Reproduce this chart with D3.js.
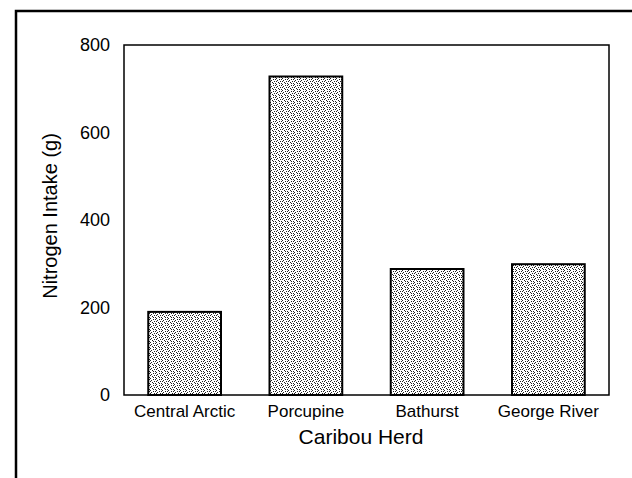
<!DOCTYPE html>
<html>
<head>
<meta charset="utf-8">
<script src="https://cdn.jsdelivr.net/npm/d3@7"></script>
<style>
  body { margin: 0; background: #fff; }
  text { font-family: Arial, "Liberation Sans", sans-serif; fill: #000; }
</style>
</head>
<body>
<div id="plot"></div>
<script>
var herds = ['Central Arctic', 'Porcupine', 'Bathurst', 'George River'];
var nitrogen = [190, 728, 288, 299];
var yTicks = [0, 200, 400, 600, 800];

var w = 632, h = 478;
var plotL = 124, plotR = 609, plotT = 45, plotB = 395;

var svg = d3.select('#plot').append('svg')
    .attr('width', w)
    .attr('height', h);

// stipple fill like the printed original
var pat = svg.append('defs').append('pattern')
    .attr('id', 'stipple')
    .attr('patternUnits', 'userSpaceOnUse')
    .attr('width', 6)
    .attr('height', 6);
pat.append('rect').attr('width', 6).attr('height', 6).attr('fill', '#fff');
[[0,0],[3,1],[1,2],[4,3],[2,4],[5,5],[0,3],[3,5],[5,1]].forEach(function(p){
  pat.append('rect').attr('x', p[0]).attr('y', p[1])
     .attr('width', 1).attr('height', 1).attr('fill', '#222');
});

// outer frame (cut off on right and bottom)
svg.append('path')
    .attr('d', 'M16,' + h + 'V11H' + w)
    .attr('fill', 'none')
    .attr('stroke', '#000')
    .attr('stroke-width', 2.5);

var x = d3.scaleBand()
    .domain(herds)
    .range([plotL, plotR])
    .paddingInner(0.4)
    .paddingOuter(0.2);

var y = d3.scaleLinear()
    .domain([0, 800])
    .range([plotB, plotT]);

// plot box
svg.append('rect')
    .attr('x', plotL).attr('y', plotT)
    .attr('width', plotR - plotL).attr('height', plotB - plotT)
    .attr('fill', 'none')
    .attr('stroke', '#000')
    .attr('stroke-width', 1.5);

svg.append('g')
    .selectAll('.bar')
    .data(herds)
    .enter()
    .append('rect')
    .attr('class', 'bar')
    .attr('x', function(d){ return x(d); })
    .attr('y', function(d, i){ return y(nitrogen[i]); })
    .attr('width', x.bandwidth())
    .attr('height', function(d, i){ return y(0) - y(nitrogen[i]); })
    .attr('fill', 'url(#stipple)')
    .attr('stroke', '#000')
    .attr('stroke-width', 2);

// y axis labels only, no ticks
var yAxis = svg.append('g')
    .attr('transform', 'translate(' + plotL + ',0)')
    .call(d3.axisLeft(y).tickValues(yTicks).tickSize(0).tickPadding(14));
yAxis.select('.domain').remove();
yAxis.selectAll('text')
    .style('font-size', '18px')
    .attr('font-family', null);

var xAxis = svg.append('g')
    .attr('transform', 'translate(0,' + plotB + ')')
    .call(d3.axisBottom(x).tickSize(0).tickPadding(10));
xAxis.select('.domain').remove();
xAxis.selectAll('text')
    .style('font-size', '17px')
    .attr('font-family', null);

svg.append('text')
    .attr('x', 361)
    .attr('y', 444)
    .attr('text-anchor', 'middle')
    .style('font-size', '21px')
    .text('Caribou Herd');

svg.append('text')
    .attr('transform', 'translate(57,216) rotate(-90)')
    .attr('text-anchor', 'middle')
    .style('font-size', '20px')
    .text('Nitrogen Intake (g)');
</script>
</body>
</html>
